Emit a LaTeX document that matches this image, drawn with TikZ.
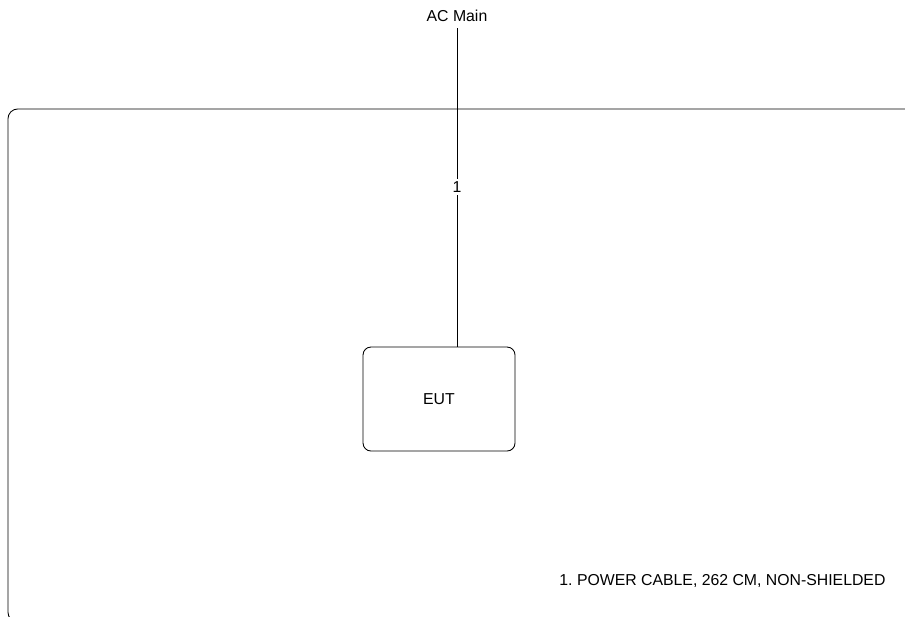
\documentclass[tikz,border=0pt]{standalone}
\usepackage{fontspec}
\setmainfont{Liberation Sans}
\frenchspacing
\begin{document}
\begin{tikzpicture}[x=0.02cm,y=-0.02cm,line width=0.5pt,font=\fontsize{9}{11}\selectfont]
\useasboundingbox (0,0) rectangle (905,616);

% enclosure
\begin{scope}
\clip (0,0) rectangle (905,616);
\draw[rounded corners=5.5pt] (8,109) rectangle (1000,622);
\end{scope}

\node (acmain) at (457,16) {AC Main};

\node[draw,rounded corners=4.5pt,minimum width=3.04cm,minimum height=2.08cm] (eut) at (439,399) {EUT};

\draw (acmain) -- (acmain |- eut.north) node[midway,fill=white,inner sep=1.5pt] (cable) {1};

\node[anchor=west,inner sep=0pt] (note) at (559,581) {1. POWER CABLE, 262 CM, NON-SHIELDED};

\end{tikzpicture}
\end{document}
